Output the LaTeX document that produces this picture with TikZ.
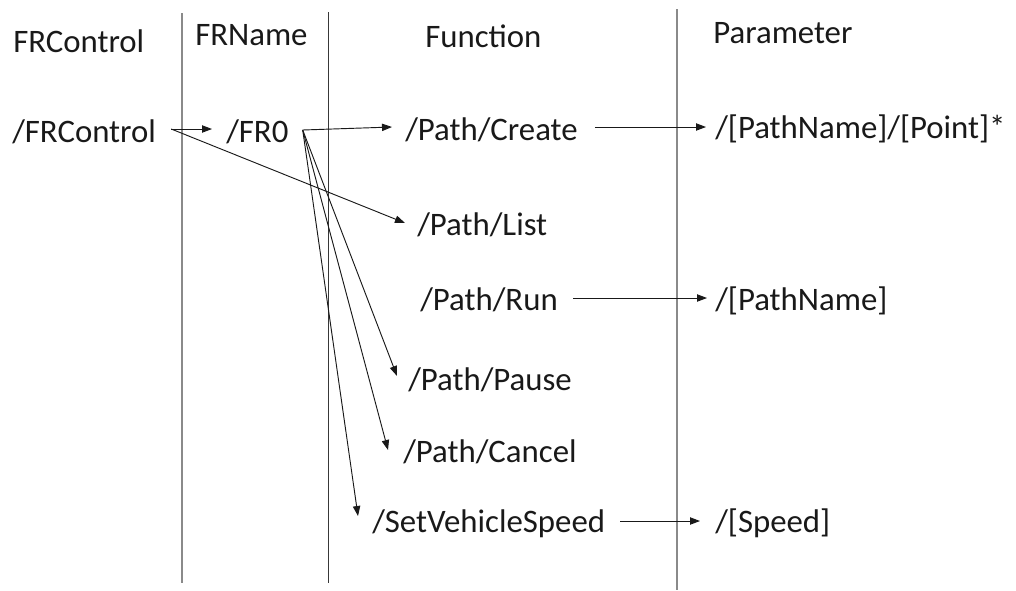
\documentclass[tikz,border=0pt]{standalone}
\usepackage{fontspec}
\setmainfont{Carlito}
\usetikzlibrary{arrows.meta,calc}
\definecolor{rulegray}{HTML}{8A8A8A}
\definecolor{ruledark}{HTML}{383838}
\begin{document}
\begin{tikzpicture}[x=0.75pt,y=-0.75pt,
  lbl/.style={anchor=base west,inner sep=0pt,font=\fontsize{24.6}{29}\selectfont,text=black!90},
  link/.style={draw=black!90,line width=0.7pt,-{Triangle[length=7.5pt,width=5.5pt]}},
  colrule/.style={line width=0.9pt}]
\useasboundingbox (0,0) rectangle (1016,590);

% column separators
\draw[colrule,rulegray] (182,13) -- (182,583);
\draw[colrule,ruledark,line width=0.75pt] (328,12) -- (328,583);
\draw[colrule,rulegray] (677,9) -- (677,590);

% column headings
\node[lbl] (hctl) at (13,52) {FRControl};
\node[lbl] (hname) at (195,45) {FRName};
\node[lbl] (hfun) at (425,47) {Function};
\node[lbl] (hpar) at (713,43) {Parameter};

% entries
\node[lbl] (frc) at (12,142) {/FRControl};
\node[lbl] (fr0) at (226,142) {/FR0};
\node[lbl] (create) at (405,140) {/Path/Create};
\node[lbl] (list) at (417,235) {/Path/List};
\node[lbl] (run) at (420,310) {/Path/Run};
\node[lbl] (pause) at (408,390) {/Path/Pause};
\node[lbl] (cancel) at (403,462) {/Path/Cancel};
\node[lbl] (svs) at (372,532) {/SetVehicleSpeed};
\node[lbl] (pcreate) at (715,138) {/[PathName]/[Point]*};
\node[lbl] (prun) at (715,310) {/[PathName]};
\node[lbl] (pspeed) at (715,532) {/[Speed]};

% connector ends
\coordinate (frcOut) at ($(frc.base east)+(15,-13)$);
\coordinate (fr0In) at ($(fr0.base west)+(-14,-13)$);
\coordinate (fr0Out) at ($(fr0.base east)+(14,-12)$);
\coordinate (createIn) at ($(create.base west)+(-13,-13)$);
\coordinate (createOut) at ($(create.base east)+(17,-13)$);
\coordinate (listIn) at ($(list.base west)+(-12,-12)$);
\coordinate (runOut) at ($(run.base east)+(15,-12)$);
\coordinate (pauseIn) at ($(pause.base west)+(-11,-14)$);
\coordinate (cancelIn) at ($(cancel.base west)+(-15,-12)$);
\coordinate (svsIn) at ($(svs.base west)+(-14,-16)$);
\coordinate (svsOut) at ($(svs.base east)+(15,-11)$);
\coordinate (pcreateIn) at ($(pcreate.base west)+(-9,-11)$);
\coordinate (prunIn) at ($(prun.base west)+(-8,-12)$);
\coordinate (pspeedIn) at ($(pspeed.base west)+(-15,-11)$);

% connectors
\draw[link] (frcOut) -- (fr0In);
\draw[link] (frcOut) -- (listIn);
\draw[link] (fr0Out) -- (createIn);
\draw[link] (fr0Out) -- (pauseIn);
\draw[link] (fr0Out) -- (cancelIn);
\draw[link] (fr0Out) -- (svsIn);
\draw[link] (createOut) -- (pcreateIn);
\draw[link] (runOut) -- (prunIn);
\draw[link] (svsOut) -- (pspeedIn);
\end{tikzpicture}
\end{document}
